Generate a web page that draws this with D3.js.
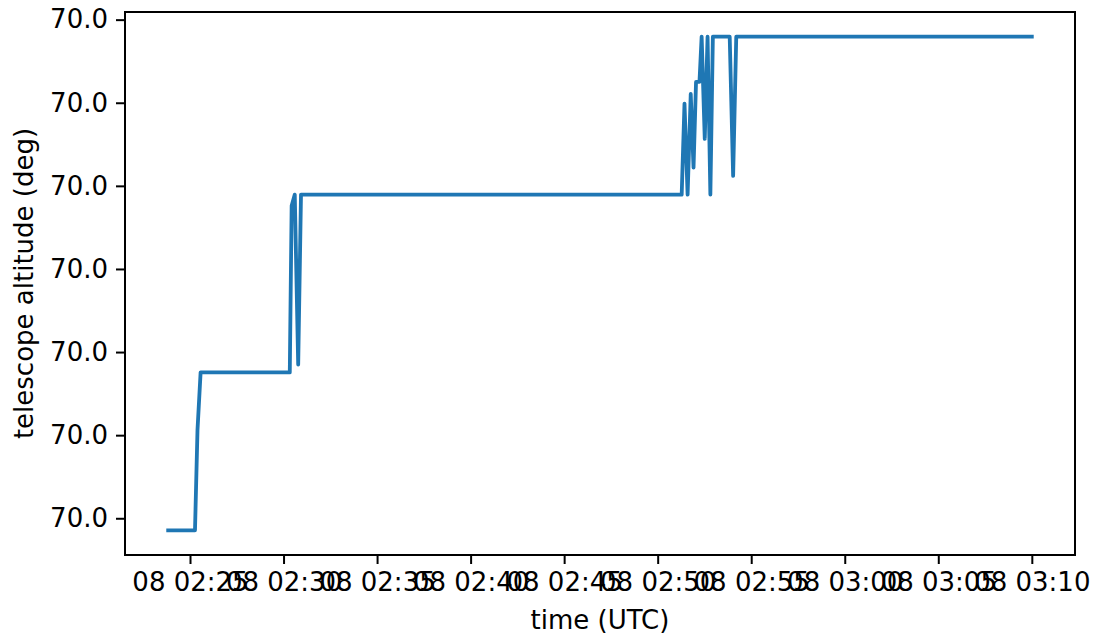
<!DOCTYPE html>
<html>
<head>
<script src="https://cdnjs.cloudflare.com/ajax/libs/d3/7.8.5/d3.min.js"></script>
<style>
  body { margin: 0; background: #fff; }
  text { font-family: "DejaVu Sans", sans-serif; fill: #000; }
</style>
</head>
<body>
<div id="chart"></div>
<script>
// samples of telescope altitude (UTC times)
const times = [
  "2023-06-08T02:23:50Z", "2023-06-08T02:25:16Z", "2023-06-08T02:25:24Z", "2023-06-08T02:25:34Z",
  "2023-06-08T02:30:20Z", "2023-06-08T02:30:26Z", "2023-06-08T02:30:36Z", "2023-06-08T02:30:47Z",
  "2023-06-08T02:30:56Z", "2023-06-08T02:51:17Z", "2023-06-08T02:51:26Z", "2023-06-08T02:51:36Z",
  "2023-06-08T02:51:46Z", "2023-06-08T02:51:55Z", "2023-06-08T02:52:03Z", "2023-06-08T02:52:14Z",
  "2023-06-08T02:52:21Z", "2023-06-08T02:52:31Z", "2023-06-08T02:52:40Z", "2023-06-08T02:52:49Z",
  "2023-06-08T02:52:57Z", "2023-06-08T02:53:51Z", "2023-06-08T02:54:02Z", "2023-06-08T02:54:12Z",
  "2023-06-08T03:10:00Z"
];
const altitude = [
  69.9999371, 69.9999371, 69.9999612, 69.9999751,
  69.9999751, 70.0000152, 70.0000179, 69.9999770,
  70.0000179, 70.0000179, 70.0000398, 70.0000179,
  70.0000421, 70.0000244, 70.0000450, 70.0000450,
  70.0000559, 70.0000313, 70.0000559, 70.0000179,
  70.0000559, 70.0000559, 70.0000224, 70.0000559,
  70.0000559
];
const yTicks = [69.99994, 69.99996, 69.99998, 70.00000, 70.00002, 70.00004, 70.00006];
const xTicks = ["2023-06-08T02:25:00Z", "2023-06-08T02:30:00Z", "2023-06-08T02:35:00Z",
  "2023-06-08T02:40:00Z", "2023-06-08T02:45:00Z", "2023-06-08T02:50:00Z", "2023-06-08T02:55:00Z",
  "2023-06-08T03:00:00Z", "2023-06-08T03:05:00Z", "2023-06-08T03:10:00Z"];

const W = 1095, H = 638;
const margin = { left: 125, right: 20, top: 12, bottom: 83 };
const iw = W - margin.left - margin.right;
const ih = H - margin.top - margin.bottom;

const data = times.map((t, i) => ({ t: new Date(t), v: altitude[i] }));

const svg = d3.select('#chart').append('svg')
  .attr('width', W).attr('height', H);
const g = svg.append('g').attr('transform', `translate(${margin.left},${margin.top})`);

// matplotlib-style 5% margins
const tExt = d3.extent(data, d => d.t);
const tPad = (tExt[1] - tExt[0]) * 0.05;
const x = d3.scaleUtc()
  .domain([new Date(+tExt[0] - tPad), new Date(+tExt[1] + tPad)])
  .range([0, iw]);
const vExt = d3.extent(data, d => d.v);
const vPad = (vExt[1] - vExt[0]) * 0.05;
const y = d3.scaleLinear()
  .domain([vExt[0] - vPad, vExt[1] + vPad])
  .range([ih, 0]);

const fs = 26;

const xAxis = g.append('g')
  .attr('transform', `translate(0,${ih})`)
  .call(d3.axisBottom(x)
    .tickValues(xTicks.map(d => new Date(d)))
    .tickFormat(d3.utcFormat('%d %H:%M'))
    .tickSize(9).tickPadding(8));
const yAxis = g.append('g')
  .call(d3.axisLeft(y)
    .tickValues(yTicks)
    .tickFormat(d3.format('.1f'))
    .tickSize(9).tickPadding(8));

[xAxis, yAxis].forEach(a => {
  a.select('.domain').remove();
  a.selectAll('.tick line').attr('stroke', '#000').attr('stroke-width', 2);
  a.selectAll('.tick text').style('font-size', fs + 'px').attr('fill', '#000');
});
xAxis.selectAll('.tick text').attr('dy', '0.74em');

// the data line
g.append('path')
  .datum(data)
  .attr('fill', 'none')
  .attr('stroke', '#1f77b4')
  .attr('stroke-width', 3.8)
  .attr('stroke-linejoin', 'round')
  .attr('stroke-linecap', 'square')
  .attr('d', d3.line().x(d => x(d.t)).y(d => y(d.v)));

// frame
g.append('rect')
  .attr('width', iw).attr('height', ih)
  .attr('fill', 'none').attr('stroke', '#000').attr('stroke-width', 2);

svg.append('text')
  .attr('x', margin.left + iw / 2).attr('y', 629)
  .attr('text-anchor', 'middle').style('font-size', fs + 'px')
  .text('time (UTC)');

svg.append('text')
  .attr('transform', `translate(33,${margin.top + ih / 2}) rotate(-90)`)
  .attr('text-anchor', 'middle').style('font-size', fs + 'px')
  .text('telescope altitude (deg)');
</script>
</body>
</html>
